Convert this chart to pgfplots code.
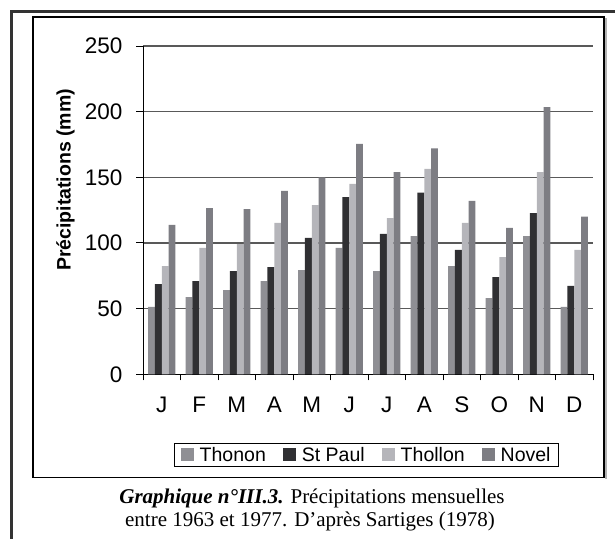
\documentclass[border=0pt]{standalone}
\usepackage{pgfplots}
\pgfplotsset{compat=1.18}
\usepackage{fontspec}
\setmainfont{Liberation Sans}
\newfontfamily\capfont{Liberation Serif}
\definecolor{cThonon}{HTML}{8F8F94}
\definecolor{cStPaul}{HTML}{303033}
\definecolor{cThollon}{HTML}{B5B5BA}
\definecolor{cNovel}{HTML}{7D7D83}
\begin{document}
\begin{tikzpicture}[x=1pt,y=1pt]
\path[use as bounding box] (0,0) rectangle (615,539);
% page lines
\draw[line width=2.6pt,black!80] (10,527.6) -- (615,527.6);
\draw[line width=2.6pt,black!80] (11.3,528.9) -- (11.3,0);
% inner frame
\draw[line width=1.5pt,gray!60] (605.8,520.5) -- (605.8,60.5);
\draw[line width=1.5pt,black] (33,522.2) rectangle (604,61.7);
\begin{axis}[
  at={(143pt,164.7pt)}, anchor=south west,
  scale only axis, width=450pt, height=328.3pt,
  xmin=0.5, xmax=12.5, ymin=0, ymax=250,
  ybar=0pt, bar width=6.8pt,
  axis x line*=bottom, axis y line*=left,
  axis line style={black, line width=1pt},
  ymajorgrids, grid style={black!65, line width=1.2pt},
  ytick={0,50,...,250},
  xtick={1,...,12},
  xticklabels={J,F,M,A,M,J,J,A,S,O,N,D},
  minor xtick={0.5,1.5,...,12.5},
  tick align=outside,
  major tick length=7pt, minor tick length=6pt,
  x tick style={draw=none},
  minor x tick style={draw=black, line width=1pt},
  y tick style={black, line width=1pt},
  tick label style={font=\fontsize{22.5}{25}\selectfont},
  /pgf/number format/assume math mode=true,
  xticklabel style={yshift=-12pt},
  yticklabel style={xshift=-10pt},
  ylabel={Précipitations (mm)},
  ylabel style={at={(axis description cs:-0.172,0.592)}, anchor=center, font=\fontsize{19.5}{22}\selectfont\bfseries},
  legend columns=4,
  legend style={at={(axis description cs:0.497,-0.2458)}, anchor=center,
    draw=black, line width=0.8pt, font=\fontsize{19.5}{22}\selectfont,
    /tikz/every odd column/.append style={column sep=4pt},
    /tikz/every even column/.append style={column sep=15pt},
    inner xsep=6pt, inner ysep=2pt},
  legend image code/.code={\fill[#1] (0pt,-6pt) rectangle (13pt,7pt);},
]
\addplot[fill=cThonon, draw=none] coordinates {(1,51.4) (2,58.8) (3,64.1) (4,71) (5,79.4) (6,96.2) (7,78.6) (8,105.3) (9,82.4) (10,58) (11,105.3) (12,51.3)};
\addplot[fill=cStPaul, draw=none] coordinates {(1,68.7) (2,71) (3,78.6) (4,81.7) (5,103.8) (6,135) (7,106.9) (8,138.3) (9,94.7) (10,74) (11,122.8) (12,67.4)};
\addplot[fill=cThollon, draw=none] coordinates {(1,82.4) (2,96.2) (3,99.2) (4,115.3) (5,128.9) (6,145) (7,119) (8,156.4) (9,115.3) (10,89.3) (11,154) (12,94.7)};
\addplot[fill=cNovel, draw=none] coordinates {(1,113.7) (2,126.6) (3,125.8) (4,139.6) (5,150) (6,175.5) (7,154) (8,172) (9,132) (10,111.5) (11,203.5) (12,120)};
\legend{Thonon,St Paul,Thollon,Novel}
\end{axis}
\node[font=\capfont\fontsize{21}{24}\selectfont, anchor=base] at (312,35.5) {\textbf{\textit{Graphique n°III.3.}} Précipitations mensuelles};
\node[font=\capfont\fontsize{21}{24}\selectfont, anchor=base] at (310,12.5) {entre 1963 et 1977. D’après Sartiges (1978)};
\end{tikzpicture}
\end{document}
